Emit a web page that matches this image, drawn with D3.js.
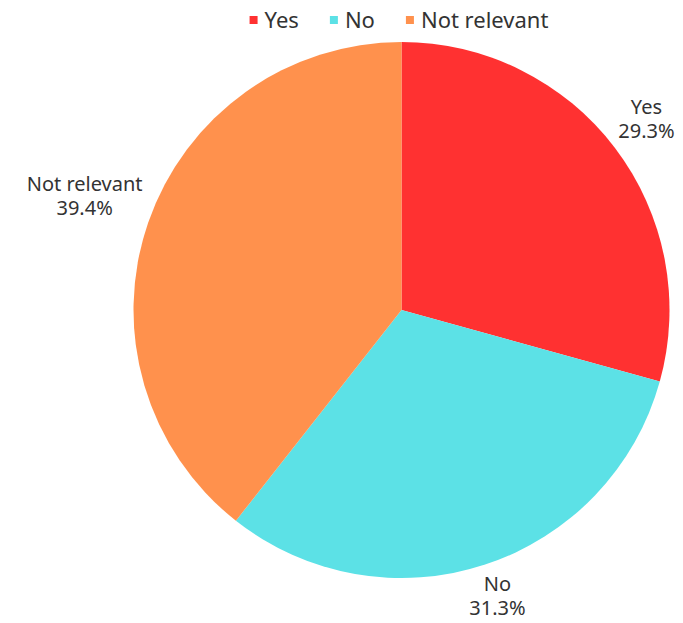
<!DOCTYPE html>
<html>
<head>
<meta charset="utf-8">
<script src="https://cdn.jsdelivr.net/npm/d3@7"></script>
<style>
  body { margin: 0; background: #fff; }
  text { font-family: "Noto Sans", "Open Sans", sans-serif; fill: #333; }
</style>
</head>
<body>
<div id="chart"></div>
<script>
// Chart values
const categories = ["Yes", "No", "Not relevant"];
const shares = [29.3, 31.3, 39.4];
const colors = ["#ff3131", "#5ce1e6", "#ff914d"];

// Setting dimensions
const width = 683,
  height = 623;
const cx = 401.5,
  cy = 310;
const radius = 268;

const svg = d3.select("#chart")
  .append("svg")
  .attr("width", width)
  .attr("height", height);

const color = d3.scaleOrdinal()
  .domain(categories)
  .range(colors);

const pie = d3.pie()
  .sort(null)
  .value(function (d) { return d.value; });

const data_ready = pie(categories.map(function (c, i) {
  return { name: c, value: shares[i] };
}));

const arcGenerator = d3.arc()
  .innerRadius(0)
  .outerRadius(radius);

const g = svg.append("g")
  .attr("transform", "translate(" + cx + "," + cy + ")");

// Slices
g.selectAll("path")
  .data(data_ready)
  .enter()
  .append("path")
  .attr("d", arcGenerator)
  .attr("fill", function (d) { return color(d.data.name); });

// Outside labels: name + percent, pushed out so the text box clears the rim
const labels = g.selectAll("g.label")
  .data(data_ready)
  .enter()
  .append("g")
  .attr("class", "label");

labels.append("text")
  .attr("text-anchor", "middle")
  .style("font-size", "20px")
  .each(function (d) {
    const t = d3.select(this);
    t.append("tspan").attr("x", 0).attr("dy", "-0.2em").text(d.data.name);
    t.append("tspan").attr("x", 0).attr("dy", "1.2em").text(d.data.value.toFixed(1) + "%");
  });

function clampUnit(v) { return Math.max(-1, Math.min(1, v)); }

labels.attr("transform", function (d) {
  const a = (d.startAngle + d.endAngle) / 2;
  const s = Math.sin(a), c = -Math.cos(a);
  const box = this.getBBox();
  const r = radius + 6;
  const x = s * r + clampUnit(s * 1.2) * box.width / 2 - (box.x + box.width / 2);
  const y = c * r + clampUnit(c * 3) * box.height / 2 - (box.y + box.height / 2);
  return "translate(" + x + "," + y + ")";
});

// Legend along the top
const legend = svg.append("g")
  .attr("transform", "translate(0,20)");

const items = legend.selectAll("g")
  .data(categories)
  .enter()
  .append("g");

items.append("rect")
  .attr("width", 8)
  .attr("height", 8)
  .attr("y", -4)
  .attr("fill", function (d) { return color(d); });

items.append("text")
  .attr("x", 15)
  .attr("dy", "0.35em")
  .style("font-size", "22px")
  .text(function (d) { return d; });

// Place legend items side by side, centred
let xPos = 0;
const gaps = [];
items.each(function () {
  gaps.push(xPos);
  xPos += this.getBBox().width + 31;
});
const total = xPos - 31;
items.attr("transform", function (d, i) {
  return "translate(" + (gaps[i] + 399 - total / 2) + ",0)";
});
</script>
</body>
</html>
